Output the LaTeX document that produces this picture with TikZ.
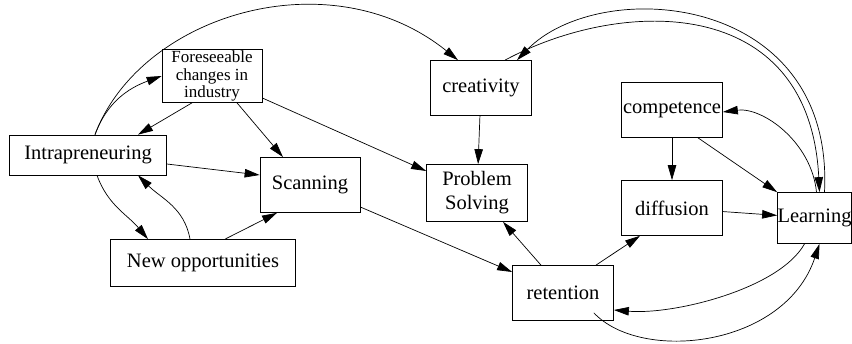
\documentclass[tikz,border=0pt]{standalone}
\usepackage{fontspec}
\setmainfont{Liberation Serif}
\usetikzlibrary{arrows.meta}

\begin{document}
\begin{tikzpicture}[x=1pt,y=1pt, line width=0.7pt,
  box/.style={draw, rectangle, minimum width=101pt, minimum height=55pt, inner sep=1pt, align=center, font=\fontsize{20.5}{24}\selectfont},
  arr/.style={-{Triangle[length=15pt,width=8.5pt]}}]
\useasboundingbox (0,0) rectangle (852,343);
\node[box, minimum width=100pt, minimum height=53pt, inner sep=0pt, font=\fontsize{17}{17.5}\selectfont] (fore) at (212,267) {Foreseeable\\changes in\\industry};
\node[box, minimum width=157pt, minimum height=40pt] (intra) at (88,188) {Intrapreneuring};
\node[box, minimum width=100pt] (scan) at (310,158) {Scanning};
\node[box, minimum width=185pt, minimum height=47pt] (newopp) at (203,80) {New opportunities};
\node[box] (creat) at (481,255) {creativity};
\node[box, minimum height=57pt] (prob) at (477,150) {Problem\\Solving};
\node[box] (comp) at (672,233) {competence};
\node[box] (diff) at (672,135) {diffusion};
\node[box, minimum width=74pt, minimum height=51pt, inner sep=0pt] (learn) at (814.5,125) {Learning};
\node[box] (ret) at (563,50) {retention};
\draw[arr] ([xshift=7pt]intra.north) to[out=70,in=200] (fore.west);
\draw[arr] ([xshift=-20pt]fore.south) -- ([xshift=50pt]intra.north);
\draw[arr] ([xshift=25pt]fore.south) -- ([xshift=-27pt]scan.north);
\draw[arr] ([yshift=-22pt]fore.east) -- ([yshift=22pt]prob.west);
\draw[arr] ([yshift=-9pt]intra.east) -- ([yshift=10pt]scan.west);
\draw[arr] ([xshift=9pt]intra.south) to[out=-70,in=130] ([xshift=-55pt]newopp.north);
\draw[arr] ([xshift=-13pt]newopp.north) to[out=100,in=-45] ([xshift=50pt]intra.south);
\draw[arr] ([xshift=22pt]newopp.north) -- ([xshift=-33pt]scan.south);
\draw[arr] ([yshift=-22pt]scan.east) -- ([yshift=21pt]ret.west);
\draw[arr] ([xshift=7pt]intra.north) .. controls +(45,120) and +(-128,103) .. ([xshift=-23pt]creat.north);
\draw[arr] (creat) -- (prob);
\draw[arr] ([xshift=24pt]creat.north) .. controls +(115,62) and +(-10,200) .. ([xshift=5pt]learn.north);
\draw[arr] ([xshift=10pt]learn.north) .. controls +(10,200) and +(83,85) .. ([xshift=36pt]creat.north);
\draw[arr] ([xshift=2pt]learn.north) .. controls +(-5,50) and +(40,5) .. ([yshift=-2pt]comp.east);
\draw[arr] ([xshift=26pt]comp.south) -- (learn.north west);
\draw[arr] (comp) -- (diff);
\draw[arr] (diff) -- (learn);
\draw[arr] ([xshift=-22pt]ret.north) -- ([xshift=26pt]prob.south);
\draw[arr] ([xshift=33pt]ret.north) -- ([xshift=-32pt]diff.south);
\draw[arr] ([xshift=-10pt]learn.south) .. controls +(-25,-45) and +(60,-5) .. ([yshift=-17pt]ret.east);
\draw[arr] ([shift={(-20pt,8pt)}]ret.south east) .. controls +(47,-50) and +(-35,-104) .. ([xshift=5pt]learn.south);
\end{tikzpicture}
\end{document}
